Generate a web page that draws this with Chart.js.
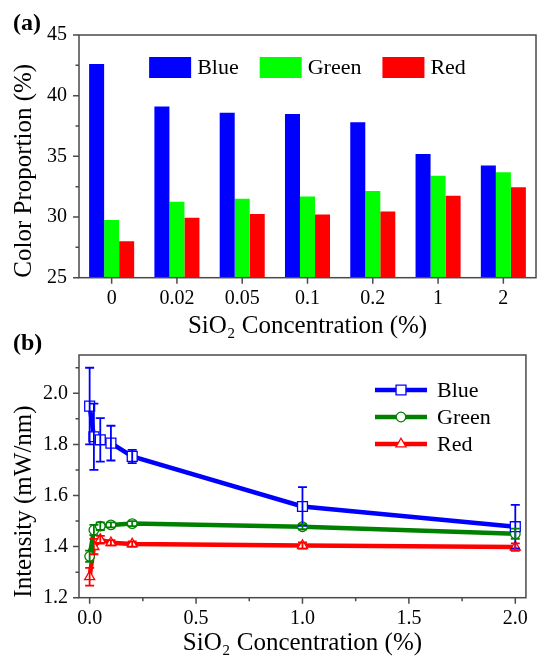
<!DOCTYPE html>
<html><head><meta charset="utf-8">
<script src="https://cdn.jsdelivr.net/npm/chart.js@4/dist/chart.umd.min.js"></script>
<style>
html,body{margin:0;padding:0;background:#fff;}
#wrap{position:relative;width:537px;height:660px;overflow:hidden;background:#fff;}
canvas{position:absolute;left:0;}
#c1{top:0;}
#c2{top:320px;}
</style></head><body>
<div id="wrap">
<canvas id="c1" width="537" height="340"></canvas>
<canvas id="c2" width="537" height="340"></canvas>
</div>
<script>
// ---- Data: panel (a) ----
const categories = ['0', '0.02', '0.05', '0.1', '0.2', '1', '2'];
const blueProportion  = [42.6, 39.1, 38.6, 38.5, 37.8, 35.2, 34.25];
const greenProportion = [29.75, 31.25, 31.5, 31.7, 32.15, 33.4, 33.7];
const redProportion   = [28.0, 29.95, 30.25, 30.2, 30.45, 31.75, 32.45];

// ---- Data: panel (b) ----
const concentrations = [0, 0.02, 0.05, 0.1, 0.2, 1, 2];
const blueIntensity  = [1.95, 1.83, 1.818, 1.805, 1.753, 1.557, 1.478];
const blueError      = [0.15, 0.13, 0.085, 0.068, 0.026, 0.076, 0.085];
const greenIntensity = [1.362, 1.465, 1.48, 1.485, 1.49, 1.478, 1.45];
const greenError     = [0.022, 0.02, 0.015, 0.01, 0.01, 0.01, 0.02];
const redIntensity   = [1.282, 1.40, 1.427, 1.415, 1.41, 1.404, 1.398];
const redError       = [0.035, 0.03, 0.015, 0.01, 0.01, 0.012, 0.015];

const SERIF = "'Liberation Serif', 'Times New Roman', serif";

const frameTicks = {
  id: 'frameTicks',
  afterDraw(chart, args, opts) {
    const {ctx, chartArea: a} = chart;
    ctx.save();
    ctx.strokeStyle = '#4a4a4a';
    ctx.lineWidth = 1.5;
    ctx.strokeRect(a.left, a.top, a.right - a.left, a.bottom - a.top);
    ctx.beginPath();
    const maj = 6, mnr = 3.5;
    const ys = chart.scales.y;
    const yv = ys.ticks.map(t => t.value);
    yv.forEach(v => { const p = ys.getPixelForValue(v); ctx.moveTo(a.left, p); ctx.lineTo(a.left - maj, p); });
    if (yv.length > 1) {
      const st = yv[1] - yv[0];
      for (let v = yv[0] - st / 2; v <= ys.max + 1e-9; v += st) {
        if (v < ys.min) continue;
        const p = ys.getPixelForValue(v); ctx.moveTo(a.left, p); ctx.lineTo(a.left - mnr, p);
      }
    }
    const xs = chart.scales.x;
    if (xs.type === 'category') {
      xs.ticks.forEach((t, i) => { const p = xs.getPixelForValue(i); ctx.moveTo(p, a.bottom); ctx.lineTo(p, a.bottom + maj); });
    } else {
      const xv = xs.ticks.map(t => t.value);
      xv.forEach(v => { const p = xs.getPixelForValue(v); ctx.moveTo(p, a.bottom); ctx.lineTo(p, a.bottom + maj); });
      if (xv.length > 1) {
        const st = xv[1] - xv[0];
        for (let v = xv[0] - st / 2; v <= xs.max + 1e-9; v += st) {
          if (v < xs.min) continue;
          const p = xs.getPixelForValue(v); ctx.moveTo(p, a.bottom); ctx.lineTo(p, a.bottom + mnr);
        }
      }
    }
    ctx.stroke();
    ctx.fillStyle = '#000';
    ctx.font = 'bold 24px ' + SERIF;
    ctx.textBaseline = 'middle';
    ctx.textAlign = 'left';
    ctx.fillText(opts.panel, 13, 24);
    ctx.restore();
  }
};

const barLegend = {
  id: 'barLegend',
  afterDraw(chart, args, opts) {
    const {ctx, chartArea: a} = chart;
    ctx.save();
    ctx.font = '22px ' + SERIF;
    const bw = 42, bh = 21, gap = 6, sep = 21;
    const items = chart.data.datasets.map(d => ({label: d.label, color: d.backgroundColor, w: ctx.measureText(d.label).width}));
    let total = 0;
    items.forEach((it, i) => { total += bw + gap + it.w + (i < items.length - 1 ? sep : 0); });
    let x = (a.left + a.right) / 2 - total / 2;
    const yTop = a.top + opts.offsetY;
    items.forEach(it => {
      ctx.fillStyle = it.color;
      ctx.fillRect(x, yTop, bw, bh);
      ctx.fillStyle = '#000';
      ctx.textBaseline = 'middle';
      ctx.fillText(it.label, x + bw + gap, yTop + bh / 2 + 1);
      x += bw + gap + it.w + sep;
    });
    ctx.restore();
  }
};

function drawMarker(ctx, style, x, y, r, color) {
  ctx.save();
  ctx.fillStyle = '#fff';
  ctx.strokeStyle = color;
  ctx.lineWidth = 1.3;
  Chart.helpers.drawPoint(ctx, {pointStyle: style, radius: r, borderWidth: 1.3}, x, y);
  ctx.restore();
}

const lineLegend = {
  id: 'lineLegend',
  afterDraw(chart, args, opts) {
    const {ctx, chartArea: a} = chart;
    ctx.save();
    ctx.font = '22px ' + SERIF;
    chart.data.datasets.forEach((d, i) => {
      const y = a.top + opts.firstY + i * opts.rowGap;
      const x0 = opts.lineX, x1 = opts.lineX + opts.lineLen;
      ctx.strokeStyle = d.borderColor;
      ctx.lineWidth = d.borderWidth;
      ctx.beginPath(); ctx.moveTo(x0, y); ctx.lineTo(x1, y); ctx.stroke();
      drawMarker(ctx, d.pointStyle, (x0 + x1) / 2, y, d.pointRadius, d.pointBorderColor);
      ctx.fillStyle = '#000';
      ctx.textBaseline = 'middle';
      ctx.fillText(d.label, x1 + 10, y + 1);
    });
    ctx.restore();
  }
};

const errorBars = {
  id: 'errorBars',
  afterDatasetsDraw(chart) {
    const {ctx, scales: {x, y}} = chart;
    ctx.save();
    chart.data.datasets.forEach(ds => {
      if (!ds.errors) return;
      ctx.strokeStyle = ds.borderColor;
      ctx.lineWidth = 1.8;
      ctx.beginPath();
      ds.data.forEach((pt, j) => {
        const e = ds.errors[j];
        const px = x.getPixelForValue(pt.x);
        const yt = y.getPixelForValue(pt.y + e), yb = y.getPixelForValue(pt.y - e);
        ctx.moveTo(px, yt); ctx.lineTo(px, yb);
        ctx.moveTo(px - 4.5, yt); ctx.lineTo(px + 4.5, yt);
        ctx.moveTo(px - 4.5, yb); ctx.lineTo(px + 4.5, yb);
      });
      ctx.stroke();
    });
    ctx.restore();
  }
};

const tickFont = {family: SERIF, size: 20};
const titleFont = {family: SERIF, size: 25, lineHeight: 1.1};

new Chart(document.getElementById('c1'), {
  type: 'bar',
  data: {
    labels: categories,
    datasets: [
      {label: 'Blue', data: blueProportion, backgroundColor: '#0000ff', borderWidth: 0},
      {label: 'Green', data: greenProportion, backgroundColor: '#00ff00', borderWidth: 0},
      {label: 'Red', data: redProportion, backgroundColor: '#ff0000', borderWidth: 0}
    ]
  },
  options: {
    responsive: false, animation: false,
    layout: {padding: {top: 35, right: 1, left: 0, bottom: 0}},
    datasets: {bar: {categoryPercentage: 0.69, barPercentage: 1.0}},
    plugins: {legend: {display: false}, tooltip: {enabled: false}, frameTicks: {panel: '(a)'}, barLegend: {offsetY: 22}},
    scales: {
      x: {
        grid: {display: false, drawTicks: false}, border: {display: false},
        ticks: {font: tickFont, color: '#000', padding: 9, maxRotation: 0},
        title: {display: true, text: 'SiO₂ Concentration (%)', font: titleFont, color: '#000', padding: {top: 0, bottom: 0}},
        afterFit(s) { s.height = 62.3; }
      },
      y: {
        min: 25, max: 45,
        grid: {display: false, drawTicks: false}, border: {display: false},
        ticks: {stepSize: 5, font: tickFont, color: '#000', padding: 12},
        title: {display: true, align: 'start', text: 'Color Proportion (%)', font: titleFont, color: '#000', padding: {top: 11, bottom: 0}},
        afterFit(s) { s.width = 79; }
      }
    }
  },
  plugins: [frameTicks, barLegend]
});

function series(label, vals, errs, color, style, r) {
  return {
    label: label,
    data: concentrations.map((c, i) => ({x: c, y: vals[i]})),
    errors: errs,
    borderColor: color, backgroundColor: color, borderWidth: 4.5,
    pointStyle: style, pointRadius: r, pointBackgroundColor: '#fff',
    pointBorderColor: color, pointBorderWidth: 1.3, tension: 0
  };
}

new Chart(document.getElementById('c2'), {
  type: 'line',
  data: {
    datasets: [
      series('Blue', blueIntensity, blueError, '#0000ff', 'rect', 7),
      series('Green', greenIntensity, greenError, '#008000', 'circle', 4.8),
      series('Red', redIntensity, redError, '#ff0000', 'triangle', 5.8)
    ]
  },
  options: {
    responsive: false, animation: false,
    layout: {padding: {top: 35, right: 1, left: 0, bottom: 0}},
    plugins: {legend: {display: false}, tooltip: {enabled: false}, frameTicks: {panel: '(b)'},
      lineLegend: {lineX: 375, lineLen: 52, firstY: 35, rowGap: 27}},
    scales: {
      x: {
        type: 'linear', min: -0.05, max: 2.05,
        grid: {display: false, drawTicks: false}, border: {display: false},
        ticks: {stepSize: 0.5, includeBounds: false, font: tickFont, color: '#000', padding: 9, maxRotation: 0, callback: v => v.toFixed(1)},
        title: {display: true, text: 'SiO₂ Concentration (%)', font: titleFont, color: '#000', padding: {top: 0, bottom: 3}},
        afterFit(s) { s.height = 62.3; }
      },
      y: {
        min: 1.2, max: 2.15,
        grid: {display: false, drawTicks: false}, border: {display: false},
        ticks: {stepSize: 0.2, includeBounds: false, font: tickFont, color: '#000', padding: 11, callback: v => v.toFixed(1)},
        title: {display: true, align: 'start', text: 'Intensity (mW/nm)', font: titleFont, color: '#000', padding: {top: 11, bottom: 0}},
        afterFit(s) { s.width = 79; }
      }
    }
  },
  plugins: [frameTicks, lineLegend, errorBars]
});
</script>
</body></html>
